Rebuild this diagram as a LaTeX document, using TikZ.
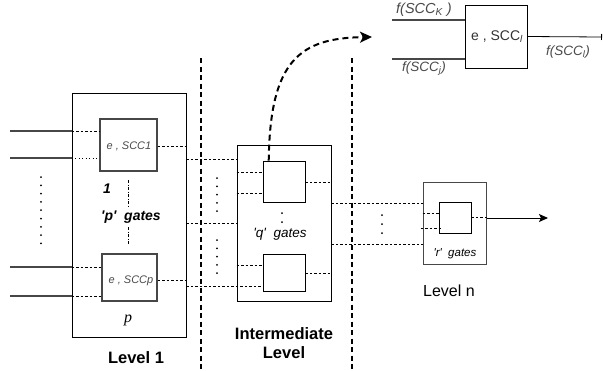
\documentclass[tikz,border=0pt]{standalone}
\usepackage{fontspec}
\setmainfont{Liberation Sans}[Ligatures=TeXOff]
\newfontfamily\serifit{Liberation Serif}
\usetikzlibrary{arrows.meta,calc}
\definecolor{gline}{HTML}{474747}
\definecolor{gtext}{HTML}{4A4A4A}
\begin{document}
\begin{tikzpicture}[x=1pt,y=-1pt,
  box/.style={draw=black,line width=0.8pt,inner sep=0pt,fill=none},
  gbox/.style={draw=gline,line width=1.1pt,inner sep=0pt},
  dl/.style={line width=0.8pt,dash pattern=on 2.5pt off 2pt},
  dotl/.style={line width=0.9pt,dash pattern=on 1pt off 2.5pt},
  inl/.style={draw=gline,line width=1.4pt},
  divider/.style={line width=2.2pt,dash pattern=on 5pt off 3.5pt},
  dots/.style={line width=2pt,line cap=round,dash pattern=on 0pt off 8.3pt},
  lbl/.style={inner sep=0pt,anchor=center},
]
\useasboundingbox (0,0) rectangle (603,370);

% boxes
\node[box,minimum width=114,minimum height=244] (L1) at (129,215) {};
\node[gbox,minimum width=57,minimum height=52] (g1) at (128.5,145) {};
\node[gbox,minimum width=55,minimum height=47] (gp) at (129.5,277.5) {};
\node[box,minimum width=94,minimum height=156] (IM) at (284,223) {};
\node[box,minimum width=42,minimum height=41] (q1) at (284,181.5) {};
\node[box,minimum width=42,minimum height=37] (q2) at (284,272.5) {};
\node[draw=gline,line width=1pt,inner sep=0pt,minimum width=63,minimum height=82] (Ln) at (454.5,223) {};
\node[box,minimum width=32,minimum height=31] (r) at (455,217.5) {};
\node[box,minimum width=62,minimum height=63] (gl) at (496,36.5) {};

% row coordinates
\coordinate (i1) at (10,131);
\coordinate (i2) at (10,158);
\coordinate (i3) at (10,267);
\coordinate (i4) at (10,296);
\coordinate (y159) at (0,159);
\coordinate (y223) at (0,223);
\coordinate (y286) at (0,286);
\coordinate (y172) at (0,172);
\coordinate (y193) at (0,193);
\coordinate (y265) at (0,265);
\coordinate (y182) at (0,182);
\coordinate (y273) at (0,273);
\coordinate (y203) at (0,203);
\coordinate (y244) at (0,244);
\coordinate (y213) at (0,213);
\coordinate (y228) at (0,228);
\coordinate (y280) at (0,280);
\coordinate (y146) at (0,146);
\coordinate (aend) at (548,218);

% level 1 inputs
\draw[inl] (i1) -- (i1 -| L1.west);
\draw[dl] (i1 -| L1.west) -- (i1 -| g1.west);
\draw[inl] (i2) -- (i2 -| L1.west);
\draw[dotl] (i2 -| L1.west) -- (i2 -| g1.west);
\draw[inl] (i3) -- (i3 -| L1.west);
\draw[dl] (i3 -| L1.west) -- (i3 -| gp.west);
\draw[inl] (i4) -- (i4 -| L1.west);
\draw[dl] (i4 -| L1.west) -- (i4 -| gp.west);
% gate outputs in level 1
\draw[dl] (g1.east |- y146) -- (L1.east |- y146);
\draw[dl] (gp.east |- y280) -- (L1.east |- y280);
% level 1 -> intermediate
\draw[dl] (L1.east |- y159) -- (IM.west |- y159);
\draw[dl] (L1.east |- y223) -- (IM.west |- y223);
\draw[dl] (L1.east |- y286) -- (q2.west |- y286);
% intermediate internals
\draw[dl] (IM.west |- y172) -- (q1.west |- y172);
\draw[dl] (IM.west |- y193) -- (q1.west |- y193);
\draw[dl] (IM.west |- y265) -- (q2.west |- y265);
\draw[dl] (q1.east |- y182) -- (IM.east |- y182);
\draw[dl] (q2.east |- y273) -- (IM.east |- y273);
% intermediate -> level n
\draw[dl] (IM.east |- y203) -- (Ln.west |- y203);
\draw[dl] (IM.east |- y244) -- (Ln.west |- y244);
% level n internals
\draw[dl] (Ln.west |- y213) -- (r.west |- y213);
\draw[dl] ([xshift=-2]Ln.west |- y228) -- ([xshift=3]r.west |- y228);
\draw[dl] (r.east) -- (r.east -| Ln.east);
\draw[line width=0.9pt,-{Stealth[length=9pt,width=8pt,inset=2pt]}] (Ln.east |- aend) -- (aend);

% level 1 vertical dash-dot
\coordinate (v1a) at (128,180);
\coordinate (v1b) at (128,207);
\coordinate (v2a) at (128,227);
\coordinate (v2b) at (128,244);
\draw[line width=0.8pt,dash pattern=on 3pt off 1.5pt on 1pt off 1.5pt] (v1a) -- (v1b);
\draw[line width=0.8pt,dash pattern=on 3pt off 1.5pt on 1pt off 1.5pt] (v2a) -- (v2b);

% dividers
\coordinate (d1t) at (201,58);
\coordinate (d1b) at (201,370);
\coordinate (d2t) at (352,58);
\coordinate (d2b) at (352,370);
\draw[divider] (d1t) -- (d1b);
\draw[divider] (d2t) -- (d2b);

% dotted columns
\coordinate (c1a) at (41,177);
\coordinate (c1b) at (41,244);
\draw[dots] (c1a) -- (c1b);
\coordinate (c2a) at (217,178);
\coordinate (c2b) at (217,213);
\draw[dots] (c2a) -- (c2b);
\coordinate (c3a) at (217,240);
\coordinate (c3b) at (217,274);
\draw[dots] (c3a) -- (c3b);
\coordinate (c4a) at (382,215);
\coordinate (c4b) at (382,234);
\draw[dots,dash pattern=on 0pt off 9pt] (c4a) -- (c4b);
\coordinate (c5a) at (282,213);
\coordinate (c5b) at (282,223);
\draw[dots,dash pattern=on 0pt off 9pt] (c5a) -- (c5b);

% curved arrow
\coordinate (cs) at ($(q1.north west)!0.143!(q1.north east)$);
\coordinate (ae) at (372,37);
\draw[line width=2pt,dash pattern=on 6pt off 4pt,-{Stealth[length=12pt,width=11pt,inset=3pt]}]
  (cs) .. controls (270,60) and (300,38) .. (ae);

% top-right gate
\coordinate (t1) at (392,20);
\coordinate (t2) at (392,59);
\coordinate (tout) at (602,37);
\draw[draw=gline,line width=2pt] (t1) -- (t1 -| gl.west);
\draw[draw=gline,line width=2pt] (t2) -- (t2 -| gl.west);
\draw[line width=0.8pt,-{Bar[width=6pt]}] (gl.east) -- (tout);

% texts
\node[lbl,text=gtext,font=\fontsize{11}{12}\selectfont\itshape] (tg1) at (129,146) {e , SCC1};
\node[lbl,text=gtext,font=\fontsize{11}{12}\selectfont\itshape] (tgp) at (131,281) {e , SCCp};
\node[lbl,font=\fontsize{14}{15}\selectfont\bfseries\itshape] (t1lab) at (107,189) {1};
\node[lbl,font=\fontsize{14}{15}\selectfont\bfseries\itshape] (tpg) at (131,217) {'p'\ \ gates};
\node[lbl,font=\fontsize{16}{17}\selectfont\serifit\itshape] (tp) at (128,320) {p};
\node[lbl,font=\fontsize{13.5}{15}\selectfont\itshape] (tqg) at (280,234) {'q'\ \ gates};
\node[lbl,font=\fontsize{11.5}{12}\selectfont\itshape] (trg) at (455,254) {'r'\ \ gates};
\node[lbl,font=\fontsize{16.5}{18}\selectfont\bfseries] (tL1) at (136,358) {Level 1};
\node[lbl,font=\fontsize{16.5}{19}\selectfont\bfseries,align=center] (tIM) at (284,343.5) {Intermediate\\Level};
\node[lbl,font=\fontsize{16}{18}\selectfont] (tLn) at (449,291) {Level n};
\node[lbl,text=black!80,font=\fontsize{14}{15}\selectfont] (tgl) at (497,37) {e , SCC\textsubscript{\itshape l}};
\node[lbl,text=gtext,font=\fontsize{14.5}{16}\selectfont\itshape] (tfk) at (424,10) {f(SCC\textsubscript{K} )};
\node[lbl,text=gtext,font=\fontsize{13.5}{15}\selectfont\itshape] (tfj) at (424,69) {f(SCC\textsubscript{j})};
\node[lbl,text=gtext,font=\fontsize{13.5}{15}\selectfont\itshape] (tfl) at (568,52) {f(SCC\textsubscript{l})};
\end{tikzpicture}
\end{document}
